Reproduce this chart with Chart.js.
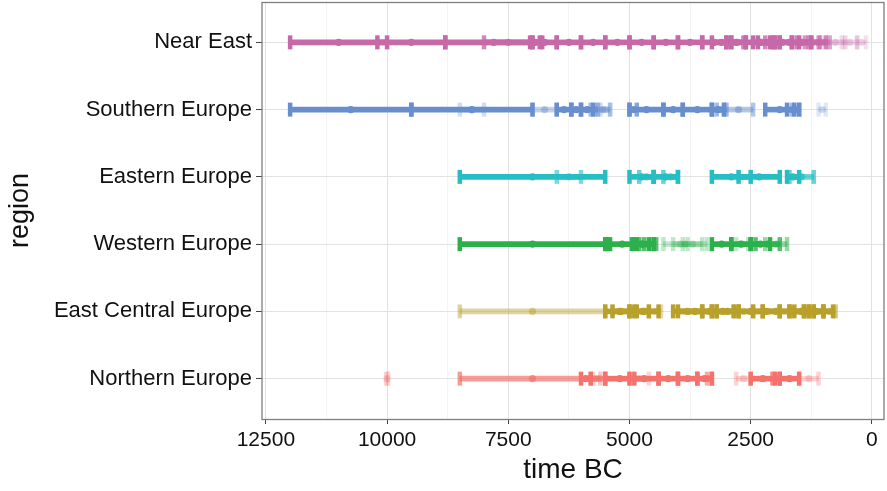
<!DOCTYPE html>
<html>
<head>
<meta charset="utf-8">
<script src="https://cdn.jsdelivr.net/npm/chart.js@4.4.1/dist/chart.umd.min.js"></script>
<style>
  body { margin: 0; background: #fff; }
  #wrap { width: 887px; height: 491px; }
</style>
</head>
<body>
<div id="wrap"><canvas id="chronoChart"></canvas></div>
<script>
'use strict';

// Regions, top to bottom
let regions = ['Near East', 'Southern Europe', 'Eastern Europe', 'Western Europe', 'East Central Europe', 'Northern Europe'];
let regionColors = ['199,104,168', '104,142,206', '38,190,196', '44,176,76', '184,160,42', '245,114,108'];

// x ticks (years BC)
let majorTicks = [0, 2500, 5000, 7500, 10000, 12500];
let minorTicks = [1250, 3750, 6250, 8750, 11250];

// Periods: [start BC, end BC, alpha]
let nearEast = [
  [12000, 10000, 1], [10200, 8800, 1], [8800, 6800, 1], [8000, 7000, 0.8], [7000, 6500, 1],
  [7050, 6850, 1], [6500, 6000, 1], [6000, 5500, 1], [5500, 5000, 1], [5000, 4500, 1],
  [4500, 4000, 1], [4000, 3500, 1], [3500, 3000, 1], [3300, 2900, 1], [3000, 2600, 1],
  [2900, 2650, 0.8], [2600, 2000, 1], [2450, 2100, 1], [2350, 1900, 1], [2200, 2000, 0.8],
  [2050, 1650, 1], [1900, 1500, 1], [1650, 1250, 1], [1550, 1300, 0.8], [1380, 1070, 0.7],
  [1250, 950, 0.7], [1100, 870, 0.6], [950, 550, 0.3], [620, 300, 0.25], [310, 120, 0.2]
];
let southernEurope = [
  [12000, 9500, 1], [9500, 7000, 1], [8500, 8000, 0.3], [7000, 6500, 0.4], [6500, 6200, 1],
  [6200, 6000, 1], [6000, 5750, 1], [5800, 5650, 0.6], [5700, 5400, 0.4], [5600, 5400, 0.3],
  [5000, 4300, 1], [5000, 4850, 0.8], [4300, 3900, 1], [3900, 3300, 1], [3300, 3050, 1],
  [3200, 3000, 0.6], [3050, 2450, 0.5], [2200, 1600, 1], [1750, 1500, 1], [1650, 1500, 0.6],
  [1100, 950, 0.2]
];
let easternEurope = [
  [8500, 5500, 1], [6500, 6000, 0.6], [5000, 4500, 1], [4800, 4500, 0.7], [4500, 4000, 1],
  [4300, 4000, 0.7], [3300, 2500, 1], [2750, 1900, 1], [1750, 1500, 1], [1700, 1200, 0.7]
];
let westernEurope = [
  [8500, 5500, 1], [5500, 5400, 1], [5450, 4850, 1], [4950, 4500, 1], [4900, 4600, 1],
  [4800, 4450, 0.8], [4700, 4500, 0.8], [4300, 3400, 0.3], [4100, 3800, 0.3], [3900, 3500, 0.3],
  [3300, 2900, 1], [2900, 2500, 1], [2800, 2550, 0.3], [2500, 2100, 1], [2400, 1900, 0.8],
  [2200, 1750, 0.5]
];
let eastCentralEurope = [
  [8500, 5500, 0.45], [5500, 4900, 1], [5350, 5000, 1], [5000, 4400, 1], [4850, 4600, 1],
  [4600, 4350, 0.4], [4100, 3500, 1], [4000, 3300, 1], [3500, 3200, 1], [3300, 2850, 1],
  [3200, 2750, 1], [2850, 2450, 0.4], [2750, 2250, 1], [2450, 1900, 1], [2250, 1700, 1],
  [1900, 1400, 1], [1700, 1200, 1], [1600, 1300, 1], [1400, 1000, 1], [1300, 1000, 1],
  [1200, 800, 1], [1000, 750, 0.6]
];
let northernEurope = [
  [10020, 9980, 0.3], [8500, 5500, 0.7], [6000, 5800, 1], [5800, 5600, 0.4], [5750, 5500, 0.3],
  [5500, 4900, 1], [5000, 4600, 0.3], [5000, 4400, 1], [4400, 4000, 1], [4000, 3600, 1],
  [3600, 3300, 1], [3400, 3300, 0.6], [2800, 2500, 0.3], [2500, 2000, 1], [2050, 1900, 0.8],
  [1900, 1500, 1], [1500, 1100, 0.3]
];

let periods = [nearEast, southernEurope, easternEurope, westernEurope, eastCentralEurope, northernEurope];

// Build datasets
let datasets = [];
periods.forEach((list, i) => {
  let y = regions.length - i;
  let rgb = regionColors[i];
  let fill = list.map(p => `rgba(${rgb},${p[2]})`);

  datasets.push({
    type: 'bar',
    indexAxis: 'y',
    data: list.map(p => ({ x: [p[0], p[1]], y: y })),
    backgroundColor: fill,
    borderWidth: 0,
    barThickness: 5,
    grouped: false,
    order: 3
  });

  let caps = [];
  let capColors = [];
  list.forEach((p, j) => {
    caps.push({ x: p[0], y: y }, { x: p[1], y: y });
    capColors.push(fill[j], fill[j]);
  });
  datasets.push({
    type: 'scatter',
    data: caps,
    pointStyle: 'line',
    rotation: 90,
    pointRadius: 7,
    pointBorderWidth: 4.5,
    pointBorderColor: capColors,
    pointBackgroundColor: capColors,
    order: 2
  });

  datasets.push({
    type: 'scatter',
    data: list.map(p => ({ x: (p[0] + p[1]) / 2, y: y })),
    pointStyle: 'circle',
    pointRadius: 3.6,
    pointBorderWidth: 0,
    pointBackgroundColor: fill,
    order: 1
  });
});

// Panel border like ggplot
let panelBorder = {
  id: 'panelBorder',
  afterDraw(chart){
    let a = chart.chartArea;
    let ctx = chart.ctx;
    ctx.save();
    ctx.strokeStyle = '#7f7f7f';
    ctx.lineWidth = 1.3;
    ctx.strokeRect(a.left, a.top + 0.5, a.right - a.left, a.bottom - a.top);
    ctx.restore();
  }
};

let isMajor = v => majorTicks.includes(v);
let noPad = s => { s.paddingTop = 0; s.paddingBottom = 0; s.paddingLeft = 0; s.paddingRight = 0; };

new Chart(document.getElementById('chronoChart'), { // eslint-disable-line
  data: { datasets: datasets },
  plugins: [panelBorder],
  options: {
    responsive: true,
    maintainAspectRatio: false,
    animation: false,
    events: [],
    layout: { autoPadding: false, padding: { top: 2, right: 3, bottom: 0, left: 0 } },
    plugins: {
      legend: { display: false },
      tooltip: { enabled: false }
    },
    scales: {
      x: {
        type: 'linear',
        reverse: true,
        offset: false,
        min: -250,
        max: 12580,
        afterBuildTicks: s => {
          s.ticks = majorTicks.concat(minorTicks).sort((a, b) => a - b).map(v => ({ value: v }));
        },
        afterFit: s => { s.height = 72; noPad(s); },
        grid: {
          offset: false,
          color: c => (c.tick && isMajor(c.tick.value)) ? '#e2e2e2' : '#f4f4f4',
          tickColor: c => (c.tick && isMajor(c.tick.value)) ? '#444' : 'rgba(0,0,0,0)',
          tickLength: 5,
          lineWidth: 1
        },
        border: { display: false },
        ticks: {
          autoSkip: false,
          maxRotation: 0,
          padding: 4,
          color: '#111',
          font: { family: 'Liberation Sans', size: 21 },
          callback: v => isMajor(v) ? String(v) : ''
        },
        title: {
          display: true,
          text: 'time BC',
          color: '#111',
          font: { family: 'Liberation Sans', size: 28 },
          padding: { top: 0, bottom: 4 }
        }
      },
      y: {
        type: 'linear',
        offset: false,
        min: 0.4,
        max: 6.6,
        afterBuildTicks: s => {
          s.ticks = regions.map((r, i) => ({ value: regions.length - i }));
        },
        afterFit: s => { s.width = 262; noPad(s); },
        grid: {
          offset: false,
          color: '#e2e2e2',
          tickColor: '#444',
          tickLength: 6,
          lineWidth: 1
        },
        border: { display: false },
        ticks: {
          autoSkip: false,
          padding: 4,
          color: '#111',
          font: { family: 'Liberation Sans', size: 22 },
          callback: v => regions[regions.length - v]
        },
        title: {
          display: true,
          text: 'region',
          color: '#111',
          font: { family: 'Liberation Sans', size: 27 },
          padding: { top: 4, bottom: 0 }
        }
      }
    }
  }
});
</script>
</body>
</html>
